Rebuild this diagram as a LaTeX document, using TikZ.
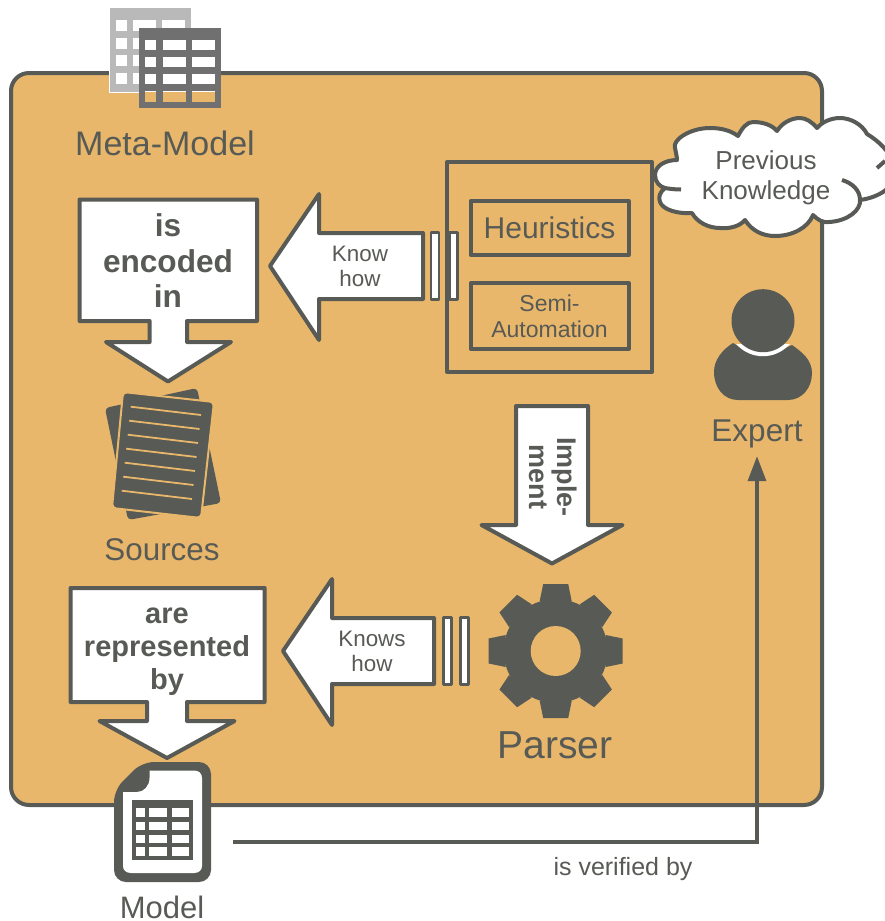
\documentclass[tikz,border=0pt]{standalone}
\usepackage{fontspec}
\setmainfont{Liberation Sans}
\usetikzlibrary{arrows.meta}
\definecolor{panelorange}{HTML}{E8B76B}
\definecolor{darkgrey}{HTML}{575A55}
\definecolor{lighttable}{HTML}{B9B9B9}
\definecolor{darktable}{HTML}{707070}
\tikzset{
  txt/.style={text=darkgrey,align=center,inner sep=0pt},
  frame/.style={draw=darkgrey,line width=4pt,line join=round,inner sep=0pt},
  bar/.style={draw=darkgrey,fill=white,line width=2.8pt,line join=round,minimum width=8pt,minimum height=67.5pt,inner sep=0pt},
  block/.style={draw=darkgrey,fill=white,line width=4pt,line join=round}
}
\newcommand{\blockarrow}{\filldraw[block]}
\newcommand{\seta}{\draw[-{Triangle[length=25pt,width=18pt]},line width=3.5pt,draw=darkgrey]}

\begin{document}
\begin{tikzpicture}[x=1pt,y=-1pt,node distance=26pt]
      \useasboundingbox (0,0) rectangle (885,921);
      \clip (0,0) rectangle (885,921);

      % panel
      \node(panel) [frame,fill=panelorange,rounded corners=18pt,minimum width=811pt,minimum height=732pt] at (416.5,439) {};

      % meta-model tables
      \fill[white] (109,7) rectangle (192,93);
      \fill[lighttable] (110,8) rectangle (191,92);
      \foreach \y in {20,38,55,73}{
        \foreach \x/\w in {116/11,133/23,162/23}{
          \fill[white] (\x,\y) rectangle ++(\w,11);
        }
      }
      \fill[darktable] (139,28) rectangle (221,108);
      \foreach \x/\w in {145/11,163/23,192/23}{
        \foreach \y in {40,57,74}{
          \fill[white] (\x,\y) rectangle ++(\w,10);
        }
        \fill[panelorange] (\x,91) rectangle ++(\w,11);
        \fill[white] (\x,91) rectangle ++(\w,1);
      }
      \node(meta) [txt,font=\fontsize{34}{38}\selectfont] at (165,143) {Meta-Model};

      % heuristics
      \node(hs) [frame,minimum width=205pt,minimum height=210pt] at (549.5,267) {};
      \node(heur) [frame,text=darkgrey,font=\fontsize{30}{34}\selectfont,minimum width=158pt,minimum height=54pt] at (549.5,228) {Heuristics};
      \node(semi) [frame,text=darkgrey,align=center,font=\fontsize{23}{26}\selectfont,minimum width=158pt,minimum height=66pt,below of=heur,node distance=88pt] {Semi-\\Automation};

      % know how
      \blockarrow (270,266) -- (319,194) -- (319,233) -- (423,233) -- (423,299) -- (319,299) -- (319,340) -- cycle;
      \node(know) [txt,font=\fontsize{22.4}{25.5}\selectfont] at (360,266.5) {Know\\how};
      \node(bar1) [bar] at (435,266) {};
      \node(bar2) [bar,right of=bar1,node distance=18.5pt] {};

      % is encoded in
      \blockarrow (79.5,199.5) -- (257,199.5) -- (257,321) -- (187,321) -- (187,342) -- (231,342) -- (168,381.5) -- (106,342) -- (149.7,342) -- (149.7,321) -- (79.5,321) -- cycle;
      \node(enc) [txt,font=\bfseries\fontsize{31.6}{35.5}\selectfont] at (168,261) {is\\encoded\\in};

      % sources
      \fill[darkgrey,rounded corners=4pt] (105,408) -- (197,388) -- (221,503) -- (128,520) -- cycle;
      \filldraw[fill=darkgrey,draw=panelorange,line width=2pt,rounded corners=4pt] (123,392) -- (214,402) -- (201,518) -- (112,508) -- cycle;
      \foreach \k in {0,...,6}{
        \draw[panelorange,line width=1.8pt] (130.7-1.5*\k,406.7+14*\k) -- (201-1.5*\k,415+14*\k);
      }
      \node(src) [txt,font=\fontsize{31.4}{35}\selectfont] at (162,550) {Sources};

      % implement
      \blockarrow (516,406) -- (588,406) -- (588,525) -- (622.5,525) -- (552,563.5) -- (481.5,525) -- (516,525) -- cycle;
      \node(impl) [txt,rotate=-90,font=\bfseries\fontsize{27}{28}\selectfont] at (553,477) {Imple-\\ment};

      % parser gear
      \fill[darkgrey] (555.7,651) circle (52);
      \foreach \a in {0,45,...,315}{
        \fill[darkgrey,shift={(555.7,651)},rotate=\a] (50,-16) -- (67,-12.5) -- (67,12.5) -- (50,16) -- cycle;
      }
      \fill[panelorange] (555.7,651) circle (25);
      \node(parser) [txt,font=\fontsize{39}{42}\selectfont] at (555,745) {Parser};

      % knows how
      \blockarrow (283,651) -- (332,579) -- (332,618) -- (434,618) -- (434,684) -- (332,684) -- (332,725) -- cycle;
      \node(knows) [txt,font=\fontsize{22.4}{25.5}\selectfont] at (372,651.5) {Knows\\how};
      \node(bar3) [bar] at (447.5,651) {};
      \node(bar4) [bar,right of=bar3,node distance=17.3pt] {};

      % are represented by
      \blockarrow (70.5,588) -- (264.7,588) -- (264.7,702) -- (187,702) -- (187,721) -- (234.5,721) -- (167,758) -- (99.5,721) -- (147,721) -- (147,702) -- (70.5,702) -- cycle;
      \node(rep) [txt,font=\bfseries\fontsize{29}{33}\selectfont] at (167,652) {are\\represented\\by};

      % model icon
      \fill[darkgrey,rounded corners=12pt] (114,790) -- (114,882) -- (211,882) -- (211,762) -- (142,762) -- cycle;
      \fill[white] (123,792) -- (137,792) .. controls (144,792) and (149.5,786) .. (149.5,778) -- (149.5,770.5) -- (194,770.5) .. controls (199,770.5) and (202,773.5) .. (202,778) -- (202,866) .. controls (202,870) and (199,873) .. (194,873) -- (131,873) .. controls (126,873) and (123,870) .. (123,866) -- cycle;
      \fill[darkgrey] (132,800) rectangle (193,860);
      \foreach \y/\h in {808/9,822/8,835/8,847/9}{
        \foreach \x/\w in {136/9,149/18,172/17}{
          \fill[white] (\x,\y) rectangle ++(\w,\h);
        }
      }
      \node(model) [txt,font=\fontsize{31}{35}\selectfont] at (162,907) {Model};

      % expert
      \fill[darkgrey] (733,343) .. controls (722,350) and (714,360) .. (714,372) .. controls (714,388) and (724,400) .. (738,400) -- (788,400) .. controls (802,400) and (812,388) .. (812,373) .. controls (812,360) and (802,352) .. (792,345) -- (783,349) -- (743,349) -- cycle;
      \begin{scope}
        \clip (735,344) rectangle (791,362);
        \fill[white] (763,320.7) circle (35.5);
      \end{scope}
      \fill[darkgrey] (763,320.7) circle (31.5);
      \node(expert) [txt,font=\fontsize{31.5}{35}\selectfont,minimum height=44pt] at (757,434) {Expert};

      % cloud
      \filldraw[block] (677,160) .. controls (665,160) and (655,166) .. (655,175) .. controls (655,182) and (660,187) .. (665,188)
        .. controls (660,192) and (658,197) .. (660,202) .. controls (663,210) and (678,214) .. (692,213)
        .. controls (697,222) and (708,228) .. (720,228) .. controls (730,229) and (740,226) .. (745,220)
        .. controls (752,231) and (763,236) .. (775,236) .. controls (792,236) and (808,228) .. (813,215)
        .. controls (818,220) and (823,223) .. (829,222) .. controls (848,221) and (861,210) .. (860,200)
        .. controls (875,198) and (893,190) .. (895,175) .. controls (896,160) and (885,145) .. (867,134)
        .. controls (862,124) and (850,118) .. (840,118) .. controls (831,118) and (822,122) .. (817,128)
        .. controls (812,122) and (806,118) .. (800,118) .. controls (791,118) and (782,123) .. (777,131)
        .. controls (772,125) and (763,122) .. (753,122) .. controls (747,122) and (742,128) .. (738,136)
        .. controls (730,130) and (720,128) .. (710,128) .. controls (690,128) and (672,140) .. (675,148)
        .. controls (676,153) and (677,157) .. (677,160) -- cycle;
      \draw[darkgrey,line width=4pt] (665,188) .. controls (670,189) and (676,189.5) .. (681,189.5);
      \draw[darkgrey,line width=4pt] (860,200) .. controls (860,190) and (852,183) .. (842,180);
      \draw[darkgrey,line width=4pt] (877,168) -- (885,161);
      \node(prev) [txt,font=\fontsize{26}{30}\selectfont] at (766,178) {Previous\\Knowledge};

      % verification
      \coordinate(vfrom) at (233,842);
      \seta (vfrom) -| (expert.south);
      \node(vlabel) [txt,font=\fontsize{25}{28}\selectfont] at (623,869) {is verified by};
   \end{tikzpicture}
\end{document}
